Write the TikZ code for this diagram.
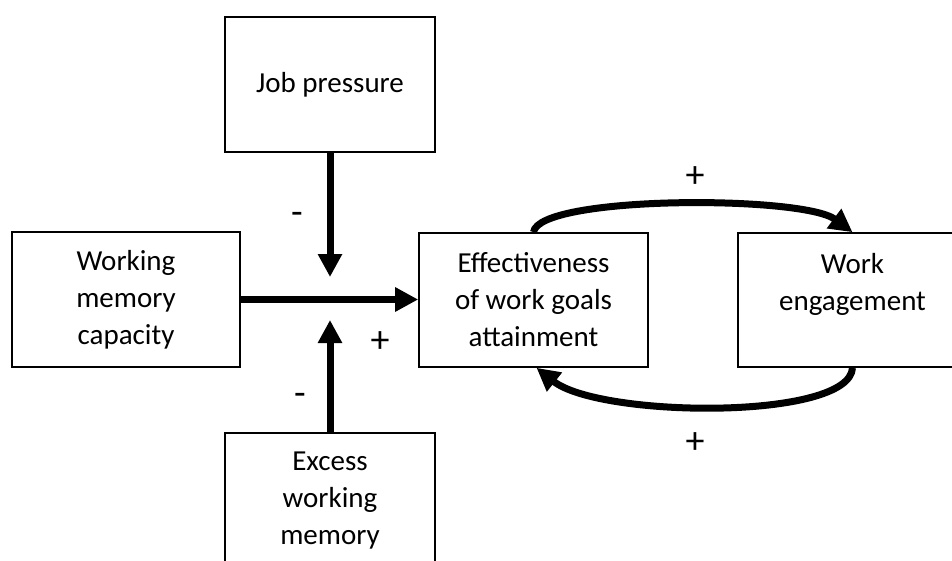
\documentclass[tikz,border=0pt]{standalone}
\usepackage{fontspec}
\setmainfont{Carlito}
\usetikzlibrary{arrows.meta}
\begin{document}
\begin{tikzpicture}[x=1pt,y=-1pt,
  box/.style={draw=black,line width=1.6pt,rectangle,align=center,inner sep=0pt,
    font=\fontsize{29}{37}\selectfont},
  sign/.style={anchor=base,inner sep=0pt,font=\fontsize{38}{44}\selectfont},
  flow/.style={line width=7pt,-{Triangle[length=23pt,width=23pt]}}]
\useasboundingbox (0,0) rectangle (952,561);
\clip (0,0) rectangle (952,561);
\node[box,minimum width=210pt,minimum height=135pt] (job) at (330,84.5) {Job pressure};
\node[box,minimum width=228pt,minimum height=135pt] (wm) at (126,299.5) {Working\\memory\\capacity};
\node[box,minimum width=229pt,minimum height=134pt] (eff) at (533.5,300) {Effectiveness\\of work goals\\attainment};
\node[box,minimum width=229pt,minimum height=134pt] (we) at (852.5,300) {Work\\engagement\\\mbox{}};
\node[box,minimum width=210pt,minimum height=135pt] (ex) at (330,500.5) {Excess\\working\\memory};
\coordinate (jtip) at (330,277);
\coordinate (etip) at (330,320);
\draw[flow] (job.south) -- (jtip);
\draw[flow] (ex.north) -- (etip);
\draw[flow] (wm.east) -- (wm.east -| eff.west);
\draw[flow] (eff.north) .. controls +(5,-37) and +(-50,-37) .. (we.north);
\draw[flow] (we.south) .. controls +(-3,53) and +(63,50) .. ([xshift=3pt]eff.south);
\node[sign] (m1) at (297,225) {-};
\node[sign] (m2) at (300,405) {-};
\node[sign] (p1) at (380,352) {+};
\node[sign] (p2) at (695,188) {+};
\node[sign] (p3) at (695,453) {+};
\end{tikzpicture}
\end{document}
